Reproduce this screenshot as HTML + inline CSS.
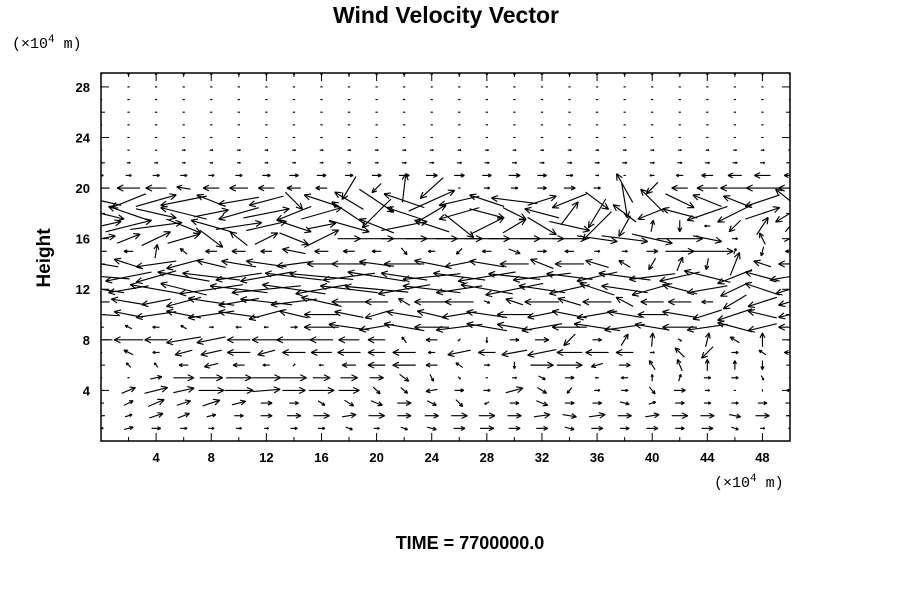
<!DOCTYPE html>
<html><head><meta charset="utf-8"><style>
body{margin:0;background:#fff;}
svg{display:block;font-family:"Liberation Sans",sans-serif;}
</style></head><body>
<svg id="chart" width="900" height="600" viewBox="0 0 900 600">
<text x="446" y="23" text-anchor="middle" font-size="23" font-weight="bold">Wind Velocity Vector</text>
<text x="12" y="48" font-size="15" font-family="Liberation Mono, monospace">(×10<tspan dy="-6" font-size="11">4</tspan><tspan dy="6"> m)</tspan></text>
<text x="714" y="487" font-size="15" font-family="Liberation Mono, monospace">(×10<tspan dy="-6" font-size="11">4</tspan><tspan dy="6"> m)</tspan></text>
<text x="0" y="0" transform="translate(50,258) rotate(-90)" text-anchor="middle" font-size="19" font-weight="bold">Height</text>
<text x="470" y="549" text-anchor="middle" font-size="18" font-weight="bold">TIME = 7700000.0</text>
<defs><clipPath id="pc"><rect x="101" y="73" width="689" height="368"/></clipPath></defs>
<g id="ticks"></g>
<g id="arrows" clip-path="url(#pc)" stroke="#000" stroke-width="1.15" fill="none"></g>
<rect x="101" y="73" width="689" height="368" fill="none" stroke="#000" stroke-width="1.5"/>
</svg>
<script>
const xCols=[0,2,4,6,8,10,12,14,16,18,20,22,24,26,28,30,32,34,36,38,40,42,44,46,48,50];
const yRows=[29,28,27,26,25,24,23,22,21,20,19,18,17,16,15,14,13,12,11,10,9,8,7,6,5,4,3,2,1];
const xTickLabels=[4,8,12,16,20,24,28,32,36,40,44,48];
const yTickLabels=[4,8,12,16,20,24,28];
const U=[
[2,2,2,2,2,2,2,2,2,2,2,2,2,2,2,2,2,2,2,2,2,2,2,2,2,2],
[2,2,2,2,2,2,2,2,2,2,2,2,2,2,2,2,2,2,2,2,2,2,2,2,2,2],
[2,2,2,2,2,2,2,2,2,2,2,2,2,2,2,2,2,2,2,2,2,2,2,2,2,2],
[2,2,2,2,2,2,2,2,2,2,2,2,2,2,2,2,2,2,2,2,2,2,2,2,2,2],
[2,2,2,2,2,2,2,2,2,2,2,2,2,2,2,2,2,2,2,2,2,2,2,2,2,2],
[2,2,2,2,2,2,2,2,2,2,2,2,2,2,2,2,2,2,2,2,2,2,2,2,2,2],
[2,2,2,3,3,3,3,3,3,3,3,3,3,3,3,3,3,3,3,3,3,3,3,3,3,3],
[3,3,3,3,3,3,3,3,3,3,3,4,4,4,4,4,4,4,4,4,4,4,4,4,4,4],
[4,5,6,6,5,6,7,8,8,7,8,9,10,9,8,10,8,6,3,-2,-4,-6,-10,-12,-14,-10],
[-15,-20,-18,-12,-14,-16,-14,-12,-10,-12,-8,3,-20,2,5,6,8,10,6,-14,-10,-14,-18,-25,-28,-20],
[-35,-30,35,-40,-25,-35,-30,15,-30,-25,30,-35,40,-35,-30,-40,25,-30,20,5,-20,25,-25,-20,-30,-25],
[40,-35,35,-40,30,-35,40,-30,35,-30,-25,-30,25,-35,30,20,-30,15,-15,-20,-25,-30,-35,-30,30,-25],
[35,40,45,30,-35,40,35,30,25,35,-30,40,-30,25,30,20,25,35,-25,-10,2,0,-5,-10,10,8],
[25,20,25,28,20,-15,20,25,30,20,30,40,45,40,40,45,38,30,35,40,35,40,25,5,-5,10],
[-10,-8,2,-6,-10,-12,-10,-20,-12,-10,-8,5,-6,-5,-8,10,8,-8,5,5,10,25,45,2,-2,-8],
[-30,-25,-35,-30,-25,-30,-35,-30,-25,-30,-30,-35,-30,-25,-30,-25,-20,-25,-20,-10,-6,5,-2,8,-15,-20],
[-50,-40,-35,-45,-50,-40,-45,-50,-55,-45,-50,-40,-50,-45,-50,-45,-50,-40,-35,-45,-40,-35,-40,-30,-30,-35],
[-40,-35,-45,-40,-55,-50,-60,-55,-45,-50,-55,-45,-50,-40,-45,-50,-40,-35,-30,-40,-35,-30,-35,-25,-30,-25],
[-15,-30,-25,-30,-40,-35,-45,-40,-35,-30,-20,-10,-30,-25,5,-15,-30,-20,-25,-15,-20,-20,-10,-20,-25,-20],
[-30,-25,-35,-30,-40,-35,-30,-25,-30,-25,-20,-30,-25,-30,-35,-30,-25,-30,-35,-30,-25,-30,-25,-30,-25,-20],
[-5,-6,-6,-5,4,-5,-4,6,-30,-35,-30,-35,-30,-40,-35,-30,-35,-30,-40,-35,-30,-30,-35,-30,-25,-20],
[-20,-25,-20,-30,-25,-20,-25,-30,-20,-18,-15,-4,-10,-2,0,8,12,-10,8,6,1,3,3,-8,0,6],
[-2,-8,-6,-15,-18,-20,-15,-20,-18,-20,-15,-20,-6,-20,-15,-22,-25,-22,-20,-15,4,-8,-10,6,-6,-10],
[-2,-4,-3,-8,-12,-10,-6,2,-4,-12,-15,-20,-10,-6,5,0,20,22,-10,10,-5,-4,0,0,0,2],
[-2,2,10,18,20,22,25,22,15,15,12,8,3,2,2,4,6,8,-3,-6,0,2,6,6,2,-2],
[-4,12,20,18,22,25,24,20,22,18,6,6,-10,8,6,15,8,-4,5,6,5,10,4,2,0,-6],
[-5,8,14,12,15,12,10,8,6,8,10,12,8,6,-4,8,10,8,8,8,6,8,6,6,8,8],
[-4,6,12,10,8,8,10,12,14,12,14,12,12,14,14,12,14,12,14,12,12,14,12,10,12,6],
[4,8,8,6,5,5,4,6,6,6,5,6,8,10,12,10,10,8,10,8,10,8,10,6,4,3]
];
const V=[
[0,0,0,0,0,0,0,0,0,0,0,0,0,0,0,0,0,0,0,0,0,0,0,0,0,0],
[0,0,0,0,0,0,0,0,0,0,0,0,0,0,0,0,0,0,0,0,0,0,0,0,0,0],
[0,0,0,0,0,0,0,0,0,0,0,0,0,0,0,0,0,0,0,0,0,0,0,0,0,0],
[0,0,0,0,0,0,0,0,0,0,0,0,0,0,0,0,0,0,0,0,0,0,0,0,0,0],
[0,0,0,0,0,0,0,0,0,0,0,0,0,0,0,0,0,0,0,0,0,0,0,0,0,0],
[0,0,0,0,0,0,0,0,0,0,0,0,0,0,0,0,0,0,0,0,0,0,0,0,0,0],
[0,0,0,0,0,0,0,0,0,0,0,0,0,0,0,0,0,0,0,0,0,0,0,0,0,0],
[0,0,0,0,0,0,0,0,0,0,0,0,0,0,0,0,0,0,0,0,0,0,0,0,0,0],
[0,0,0,0,0,0,0,0,0,0,0,0,0,0,0,0,0,0,0,0,0,0,0,0,0,0],
[0,0,0,2,0,0,0,0,0,-20,-8,25,-18,0,0,0,0,0,0,25,-10,0,0,0,0,0],
[8,-12,10,-8,10,-6,-8,-15,10,15,-20,12,18,-8,10,5,8,-12,-15,-30,20,-12,10,8,-10,20],
[-10,12,-8,10,6,-10,8,-12,10,20,-25,10,15,-10,-8,-10,8,20,-25,15,-10,8,-12,-15,10,-15],
[8,10,6,-12,10,6,8,-10,5,-10,12,8,10,-20,15,12,-15,-8,-25,-18,10,-10,0,-10,15,10],
[5,8,12,8,-15,12,10,-10,15,0,0,0,0,0,0,0,0,0,-5,-5,-8,0,-5,0,10,5],
[0,0,12,5,0,0,0,4,0,0,0,-6,0,-5,0,-4,0,0,0,0,0,0,0,5,-8,0],
[5,8,-5,-8,6,5,5,-4,0,0,4,0,6,-5,5,0,8,0,6,6,-10,12,-10,20,5,0],
[4,-8,-10,8,6,-6,-8,6,5,-6,8,6,-5,6,-8,5,-6,5,-8,6,-5,-8,10,-12,8,-6],
[6,-6,8,10,-8,6,-6,8,-8,6,5,-8,6,-6,8,-10,6,-8,10,6,-10,8,-6,-12,10,-8],
[0,5,-5,-8,6,-6,5,-5,8,0,0,6,0,0,-2,5,0,6,0,8,0,0,0,-12,-8,-6],
[2,5,-5,6,-6,5,-8,6,0,5,-6,5,6,-5,5,0,-5,6,-6,5,0,5,-8,-10,6,-5],
[0,3,0,3,0,0,0,0,0,5,-5,6,0,-5,6,5,-6,0,6,-5,5,0,-5,8,-6,0],
[0,0,0,-5,-5,0,0,0,0,0,0,5,0,-2,-5,0,0,-10,0,10,12,-2,12,5,12,0],
[0,4,0,-4,-4,0,-4,0,0,0,0,0,0,-4,0,-4,-5,0,0,0,0,8,-10,0,4,0],
[0,4,4,0,-3,0,0,2,0,0,0,0,0,4,0,-6,0,0,-3,0,8,10,10,8,-8,0],
[0,0,2,0,0,0,0,0,0,0,0,-6,-6,-2,0,0,-3,0,0,0,6,6,0,0,-4,0],
[0,5,5,4,0,0,2,0,0,0,-6,-5,-2,0,0,4,-5,-5,0,0,-6,0,0,0,2,0],
[0,4,6,4,5,3,0,0,-4,-5,-4,0,-4,-6,-2,0,-4,0,0,-2,2,0,0,0,0,0],
[0,2,4,4,2,0,0,0,0,2,0,0,0,0,0,0,2,-2,2,0,2,0,0,-2,0,0],
[0,2,0,0,0,0,0,0,0,-2,0,-2,-2,0,0,0,0,-2,0,0,0,0,0,-2,0,0]
];
const NS='http://www.w3.org/2000/svg';
const X0=101,X1=790,Y0=441,Y1=73,XMAX=50,YMAX=29.1;
function sx(v){return X0+v*(X1-X0)/XMAX;}
function sy(v){return Y0-v*(Y0-Y1)/YMAX;}
const SCALE=1.15;
const ag=document.getElementById('arrows');
const tg=document.getElementById('ticks');
function line(g,x1,y1,x2,y2){const l=document.createElementNS(NS,'line');l.setAttribute('x1',x1);l.setAttribute('y1',y1);l.setAttribute('x2',x2);l.setAttribute('y2',y2);g.appendChild(l);return l;}
yRows.forEach((yv,r)=>{
  xCols.forEach((xv,c)=>{
    const u=U[r][c]*SCALE,v=V[r][c]*SCALE;
    const cx=sx(xv),cy=sy(yv);
    const g=document.createElementNS(NS,'g');
    
    
    const x1=cx-u/2,y1=cy+v/2,x2=cx+u/2,y2=cy-v/2;
    line(g,x1,y1,x2,y2);
    const L=Math.hypot(u,v);
    if(L>3){
      const a=Math.atan2(y2-y1,x2-x1),h=Math.min(7,L*0.4);
      [0.45,-0.45].forEach(d=>line(g,x2,y2,x2-h*Math.cos(a+d),y2-h*Math.sin(a+d)));
    }
    ag.appendChild(g);
  });
});
tg.setAttribute('stroke','#000');
for(let t=2;t<XMAX;t+=2){
  const len=(t%4===0)?8:4;
  const x=sx(t);
  const tb=line(tg,x,Y0,x,Y0-len);
  
  
  line(tg,x,Y1,x,Y1+len);
}
for(let t=2;t<YMAX;t+=2){
  const len=(t%4===0)?8:4;
  const y=sy(t);
  const tl=line(tg,X0,y,X0+len,y);
  
  
  line(tg,X1,y,X1-len,y);
}
const svg=document.getElementById('chart');
xTickLabels.forEach(t=>{
  const e=document.createElementNS(NS,'text');
  e.setAttribute('x',sx(t));e.setAttribute('y',Y0+21);
  e.setAttribute('text-anchor','middle');e.setAttribute('font-size','13');e.setAttribute('font-weight','bold');
  
  
  e.textContent=t;svg.appendChild(e);
});
yTickLabels.forEach(t=>{
  const e=document.createElementNS(NS,'text');
  e.setAttribute('x',X0-11);e.setAttribute('y',sy(t)+5);
  e.setAttribute('text-anchor','end');e.setAttribute('font-size','13');e.setAttribute('font-weight','bold');
  
  
  e.textContent=t;svg.appendChild(e);
});
</script>
</body></html>
